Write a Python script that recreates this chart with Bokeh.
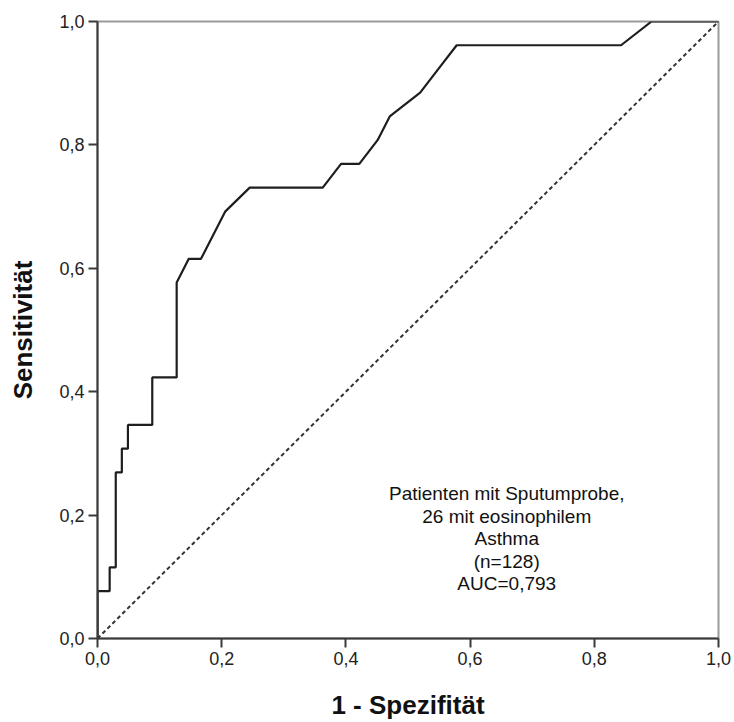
from bokeh.plotting import figure
from bokeh.models import Range1d, FixedTicker, Label
from bokeh.embed import file_html
from bokeh.resources import INLINE

# ROC curve points (1 - specificity, sensitivity)
fpr = [0.0, 0.0, 0.0196, 0.0196, 0.0294, 0.0294, 0.0392, 0.0392, 0.049, 0.049,
       0.0882, 0.0882, 0.1275, 0.1275, 0.147, 0.1667, 0.2059, 0.2451, 0.3627,
       0.3922, 0.4216, 0.451, 0.4706, 0.5196, 0.549, 0.5784, 0.8431, 0.8922, 1.0]
tpr = [0.0, 0.0769, 0.0769, 0.1154, 0.1154, 0.2692, 0.2692, 0.3077, 0.3077, 0.3462,
       0.3462, 0.4231, 0.4231, 0.5769, 0.6154, 0.6154, 0.6923, 0.7308, 0.7308,
       0.7692, 0.7692, 0.8077, 0.8462, 0.8846, 0.9231, 0.9615, 0.9615, 1.0, 1.0]
diag = [0.0, 1.0]
ticks = [0.0, 0.2, 0.4, 0.6, 0.8, 1.0]
tick_labels = ["0,0", "0,2", "0,4", "0,6", "0,8", "1,0"]
note_lines = ["Patienten mit Sputumprobe,", "26 mit eosinophilem", "Asthma", "(n=128)", "AUC=0,793"]

p = figure(width=734, height=722, output_backend="svg", toolbar_location=None,
           x_range=Range1d(0, 1), y_range=Range1d(0, 1),
           min_border_left=97, min_border_right=16, min_border_top=21, min_border_bottom=84)
p.grid.visible = False
p.outline_line_color = "#9a9a9a"
p.outline_line_width = 2
p.background_fill_color = "white"
p.border_fill_color = "white"

p.line(diag, diag, line_color="#333333", line_width=2, line_dash="4 3")
p.line(fpr, tpr, line_color="#1e1e1e", line_width=2.2)

overrides = {t: l for t, l in zip(ticks, tick_labels)}
for ax in (p.xaxis[0], p.yaxis[0]):
    ax.ticker = FixedTicker(ticks=ticks)
    ax.major_label_overrides = overrides
    ax.axis_line_color = "#3a3a3a"
    ax.axis_line_width = 2
    ax.major_tick_line_color = "#3a3a3a"
    ax.major_tick_line_width = 2
    ax.major_tick_in = 0
    ax.major_tick_out = 9
    ax.minor_tick_line_color = None
    ax.major_label_text_font = "Liberation Sans"
    ax.major_label_text_font_size = "18px"
    ax.major_label_text_color = "#222222"
    ax.major_label_standoff = 4
    ax.axis_label_text_font = "Liberation Sans"
    ax.axis_label_text_font_size = "26px"
    ax.axis_label_text_font_style = "bold"
    ax.axis_label_text_color = "#111111"

p.xaxis.axis_label = "1 - Spezifität"
p.yaxis.axis_label = "Sensitivität"
p.xaxis.axis_label_standoff = 22
p.yaxis.axis_label_standoff = 18

line_h = 0.0365
for i, t in enumerate(note_lines):
    p.add_layout(Label(x=0.659, y=0.235 - i * line_h, text=t, text_align="center",
                       text_baseline="middle", text_font="Liberation Sans",
                       text_font_size="19px", text_color="#111111"))

open("out.html", "w").write(file_html(p, INLINE))
